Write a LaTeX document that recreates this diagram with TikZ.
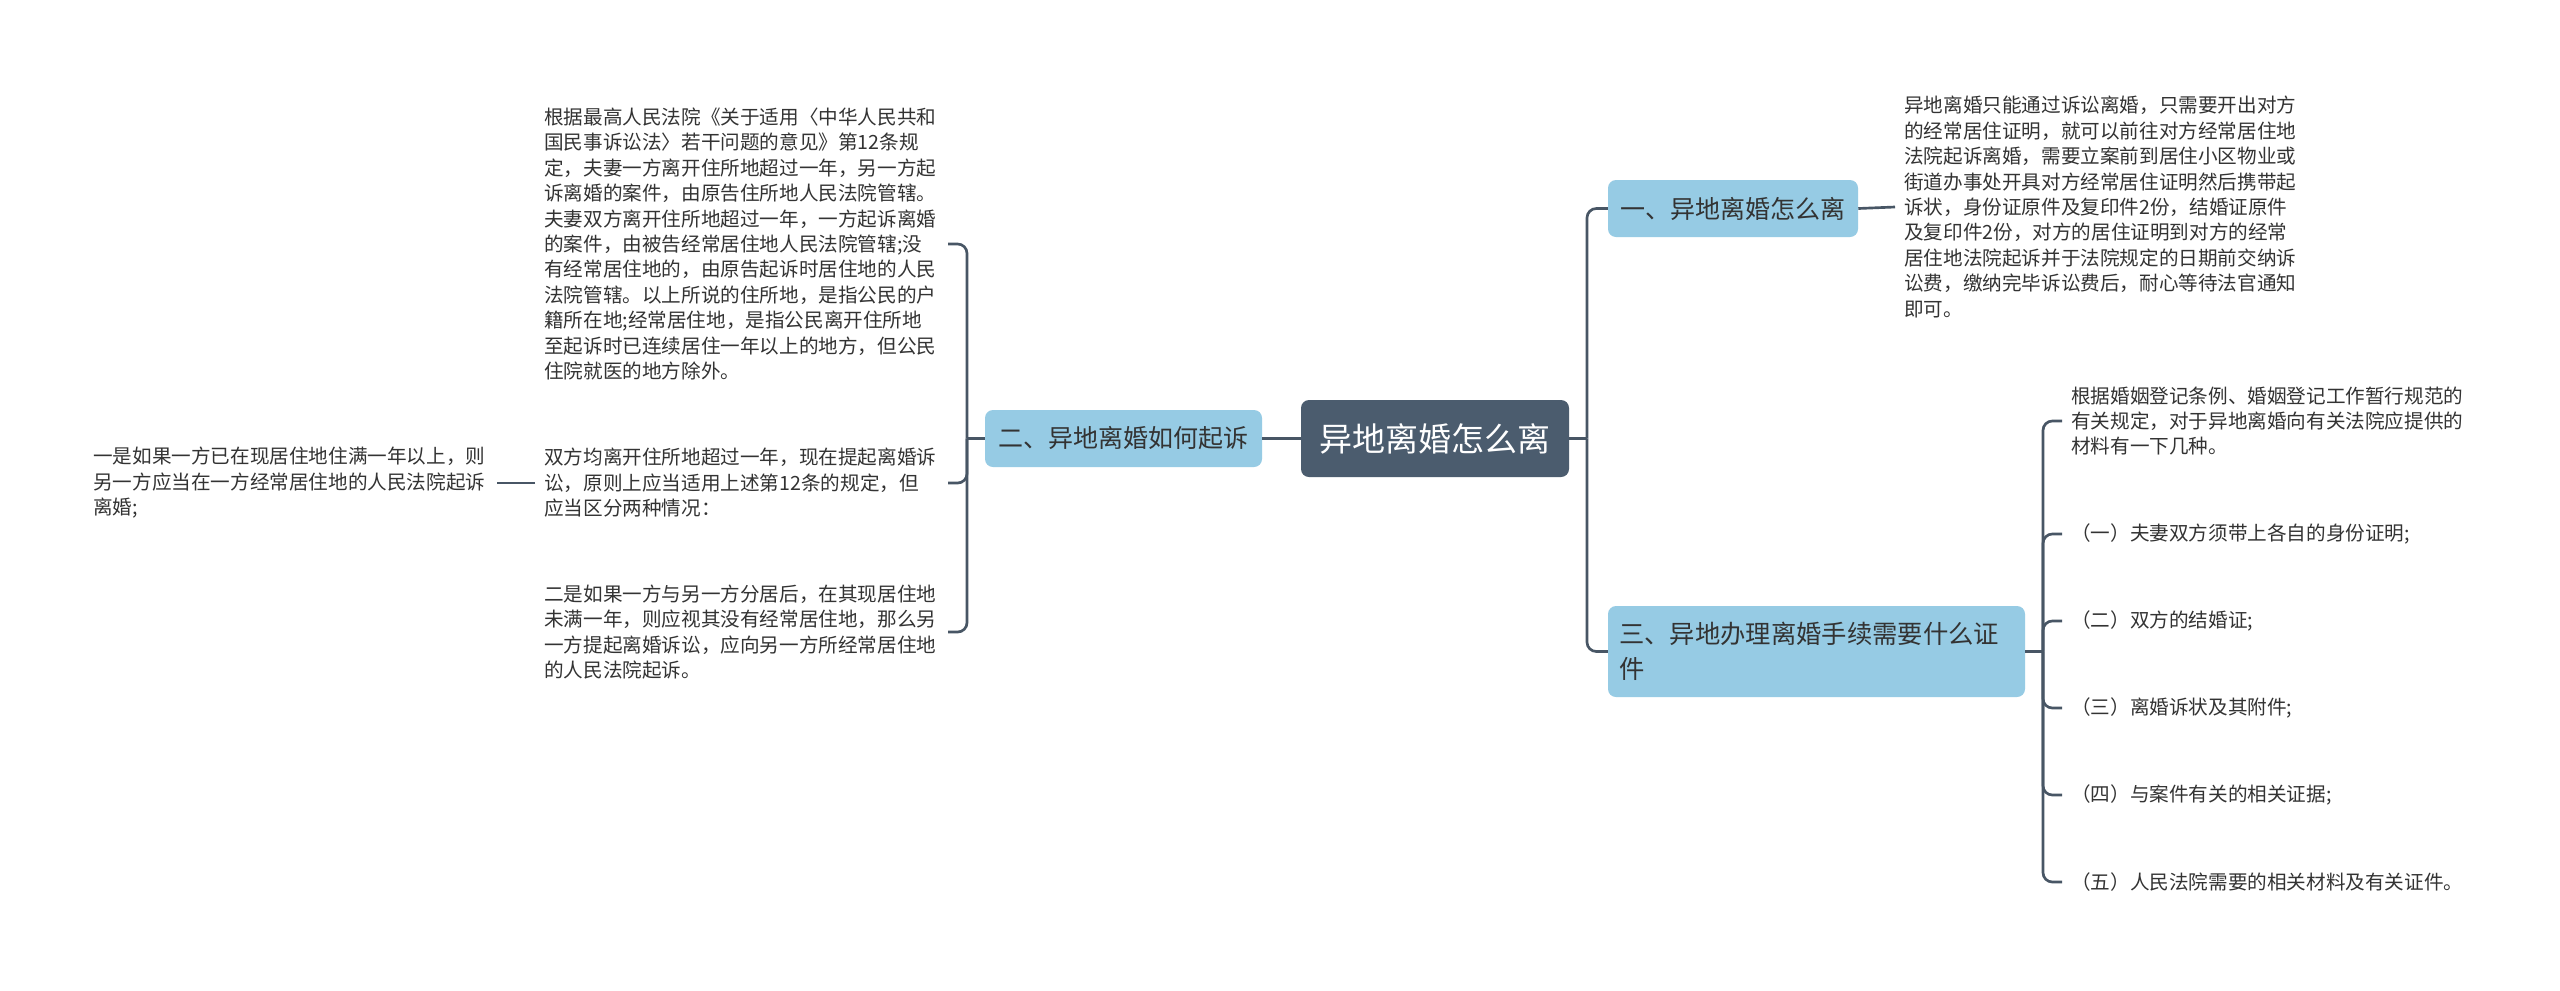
\documentclass[tikz,border=0pt]{standalone}
\usepackage{fontspec}
\setmainfont{Noto Sans CJK SC}
\definecolor{linkc}{RGB}{72,86,101}
\definecolor{topicc}{RGB}{150,203,228}
\definecolor{rootc}{RGB}{75,92,110}
\definecolor{textc}{RGB}{51,51,51}
\begin{document}
\begin{tikzpicture}[x=0.75pt,y=-0.75pt,
  link/.style={draw=linkc,line width=2pt,rounded corners=7pt},
  topic/.style={fill=topicc,rounded corners=6pt,text=textc,inner sep=0pt,font=\fontsize{18.75pt}{24pt}\selectfont},
  leaf/.style={anchor=west,text=textc,align=left,text width=296pt,inner xsep=6.75pt,inner ysep=0pt,font=\fontsize{14.7pt}{19.1pt}\selectfont}]
  \fill[white] (0,0) rectangle (2560,990);
  \useasboundingbox (0,0) rectangle (2560,990);
  \node[topic,fill=rootc,text=white,minimum width=201pt,minimum height=57.75pt,font=\fontsize{24.75pt}{30pt}\selectfont] (root) at (1435,438.5) {异地离婚怎么离};
  \node[topic,minimum width=187.5pt,minimum height=42.75pt] (b1) at (1733,208.5) {一、异地离婚怎么离};
  \node[topic,minimum width=207.75pt,minimum height=42.75pt] (b2) at (1123.5,438.5) {二、异地离婚如何起诉};
  \node[topic,minimum width=312.75pt,minimum height=68.25pt,text width=296.25pt,align=left,font=\fontsize{19pt}{26.25pt}\selectfont] (b3) at (1816.5,651.5) {三、异地办理离婚手续需要什么证\\件};
  \node[leaf] (r1) at (1895,207) {异地离婚只能通过诉讼离婚，只需要开出对方\\的经常居住证明，就可以前往对方经常居住地\\法院起诉离婚，需要立案前到居住小区物业或\\街道办事处开具对方经常居住证明然后携带起\\诉状，身份证原件及复印件2份，结婚证原件\\及复印件2份，对方的居住证明到对方的经常\\居住地法院起诉并于法院规定的日期前交纳诉\\讼费，缴纳完毕诉讼费后，耐心等待法官通知\\即可。};
  \node[leaf] (l1) at (535,244) {根据最高人民法院《关于适用〈中华人民共和\\国民事诉讼法〉若干问题的意见》第12条规\\定，夫妻一方离开住所地超过一年，另一方起\\诉离婚的案件，由原告住所地人民法院管辖。\\夫妻双方离开住所地超过一年，一方起诉离婚\\的案件，由被告经常居住地人民法院管辖;没\\有经常居住地的，由原告起诉时居住地的人民\\法院管辖。以上所说的住所地，是指公民的户\\籍所在地;经常居住地，是指公民离开住所地\\至起诉时已连续居住一年以上的地方，但公民\\住院就医的地方除外。};
  \node[leaf] (l2) at (535,483) {双方均离开住所地超过一年，现在提起离婚诉\\讼，原则上应当适用上述第12条的规定，但\\应当区分两种情况：};
  \node[leaf] (l3) at (535,632) {二是如果一方与另一方分居后，在其现居住地\\未满一年，则应视其没有经常居住地，那么另\\一方提起离婚诉讼，应向另一方所经常居住地\\的人民法院起诉。};
  \node[leaf] (l21) at (84,483) {一是如果一方已在现居住地住满一年以上，则\\另一方应当在一方经常居住地的人民法院起诉\\离婚;};
  \node[leaf] (r31) at (2062,421) {根据婚姻登记条例、婚姻登记工作暂行规范的\\有关规定，对于异地离婚向有关法院应提供的\\材料有一下几种。};
  \node[leaf] (r32) at (2062,534) {（一）夫妻双方须带上各自的身份证明;};
  \node[leaf] (r33) at (2062,621) {（二）双方的结婚证;};
  \node[leaf] (r34) at (2062,708) {（三）离婚诉状及其附件;};
  \node[leaf] (r35) at (2062,795) {（四）与案件有关的相关证据;};
  \node[leaf] (r36) at (2062,882) {（五）人民法院需要的相关材料及有关证件。};
  \coordinate (jr) at (1587,438.5);
  \coordinate (jl) at (967,438.5);
  \coordinate (j3) at (2043,651.5);
  \draw[link] (root.east) -- (jr);
  \draw[link] (jr) |- (b1.west);
  \draw[link] (jr) |- (b3.west);
  \draw[link] (b1.east) -- (r1.west);
  \draw[link] (b2.east) -- (root.west);
  \draw[link] (b2.west) -- (jl);
  \foreach \n in {l1,l2,l3} \draw[link] (jl) |- (\n.east);
  \draw[link] (l2.west) -- (l21.east);
  \draw[link] (b3.east) -- (j3);
  \foreach \n in {r31,r32,r33,r34,r35,r36} \draw[link] (j3) |- (\n.west);
\end{tikzpicture}
\end{document}
